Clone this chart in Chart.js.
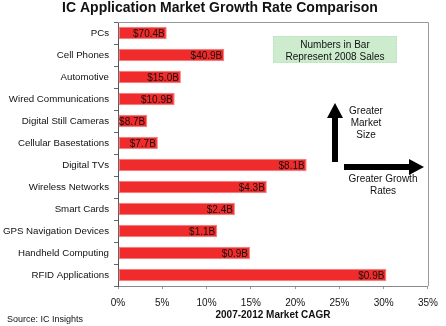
<!DOCTYPE html>
<html>
<head>
<meta charset="utf-8">
<script src="https://cdn.jsdelivr.net/npm/chart.js@4"></script>
<style>
  body { margin: 0; background: #fff; }
</style>
</head>
<body>
<canvas id="cagr" width="446" height="326"></canvas>
<script>
// categories, CAGR (%) and 2008 sales labels
var categorias = ['PCs', 'Cell Phones', 'Automotive', 'Wired Communications', 'Digital Still Cameras',
    'Cellular Basestations', 'Digital TVs', 'Wireless Networks', 'Smart Cards',
    'GPS Navigation Devices', 'Handheld Computing', 'RFID Applications'];
var cagr = [5.5, 12.0, 7.1, 6.4, 3.3, 4.5, 21.3, 16.8, 13.2, 11.2, 14.9, 30.3];
var ventas = ['$70.4B', '$40.9B', '$15.0B', '$10.9B', '$8.7B', '$7.7B', '$8.1B', '$4.3B',
    '$2.4B', '$1.1B', '$0.9B', '$0.9B'];
var ticksX = [0, 5, 10, 15, 20, 25, 30, 35];

var fuente = 'Liberation Sans, Arial, sans-serif';
Chart.defaults.font.family = fuente;
Chart.defaults.color = '#111';

var extras = {
    id: 'extras',
    afterDatasetsDraw: function (chart) {
        var ctx = chart.ctx;
        var area = chart.chartArea;
        ctx.save();

        // top and right frame
        ctx.strokeStyle = '#999';
        ctx.lineWidth = 1;
        ctx.beginPath();
        ctx.moveTo(area.left, area.top + 0.5);
        ctx.lineTo(area.right + 0.5, area.top + 0.5);
        ctx.lineTo(area.right + 0.5, area.bottom);
        ctx.stroke();

        // labels inside bars
        var meta = chart.getDatasetMeta(0);
        ctx.font = '10px ' + fuente;
        ctx.fillStyle = '#111';
        ctx.textAlign = 'right';
        ctx.textBaseline = 'middle';
        meta.data.forEach(function (bar, i) {
            ctx.fillText(ventas[i], bar.x - 2, bar.y + 1);
        });

        // title
        ctx.font = 'bold 14px ' + fuente;
        ctx.textAlign = 'center';
        ctx.fillText('IC Application Market Growth Rate Comparison', 220, 8);

        // note box
        ctx.fillStyle = '#cdeccd';
        ctx.fillRect(273, 36, 124, 27);
        ctx.setLineDash([1, 2]);
        ctx.strokeStyle = '#b5d8b5';
        ctx.strokeRect(273.5, 36.5, 123, 26);
        ctx.setLineDash([]);
        ctx.fillStyle = '#111';
        ctx.font = '10px ' + fuente;
        ctx.fillText('Numbers in Bar', 335, 45);
        ctx.fillText('Represent 2008 Sales', 335, 57);

        // arrows
        ctx.fillStyle = '#000';
        ctx.fillRect(332, 117, 6, 45);
        ctx.beginPath();
        ctx.moveTo(335, 103);
        ctx.lineTo(343, 118);
        ctx.lineTo(327, 118);
        ctx.closePath();
        ctx.fill();

        ctx.fillRect(344, 164, 66, 6);
        ctx.beginPath();
        ctx.moveTo(424, 167);
        ctx.lineTo(409, 159);
        ctx.lineTo(409, 175);
        ctx.closePath();
        ctx.fill();

        ctx.fillStyle = '#111';
        ctx.fillText('Greater', 366, 111);
        ctx.fillText('Market', 366, 123);
        ctx.fillText('Size', 366, 135);
        ctx.fillText('Greater Growth', 383, 179);
        ctx.fillText('Rates', 383, 191);

        // source
        ctx.textAlign = 'left';
        ctx.font = '9px ' + fuente;
        ctx.fillText('Source: IC Insights', 7, 320);
        ctx.restore();
    }
};

var ctx = document.getElementById('cagr').getContext('2d');
var chart = new Chart(ctx, {
    type: 'bar',
    data: {
        labels: categorias,
        datasets: [{
            data: cagr,
            backgroundColor: '#ef2b2b',
            borderColor: '#f47c7c',
            borderWidth: 1,
            borderSkipped: false,
            categoryPercentage: 1,
            barPercentage: 0.56
        }]
    },
    options: {
        indexAxis: 'y',
        responsive: false,
        animation: false,
        devicePixelRatio: 1,
        layout: { padding: { top: 22, right: 11, left: 0, bottom: 0 } },
        plugins: {
            legend: { display: false },
            tooltip: { enabled: false }
        },
        scales: {
            x: {
                min: 0,
                max: 35,
                afterBuildTicks: function (axis) {
                    axis.ticks = ticksX.map(function (v) { return { value: v }; });
                },
                afterFit: function (axis) { axis.height = 40; },
                grid: { drawOnChartArea: false, tickLength: 3, color: '#999' },
                border: { color: '#888' },
                ticks: {
                    padding: 8,
                    font: { size: 10 },
                    color: '#111',
                    maxRotation: 0,
                    callback: function (v) { return v + '%'; }
                },
                title: {
                    display: true,
                    text: '2007-2012 Market CAGR',
                    font: { size: 10, weight: 'bold' },
                    color: '#111',
                    padding: { top: 0, bottom: 5 }
                }
            },
            y: {
                afterFit: function (axis) { axis.width = 118; },
                grid: { drawOnChartArea: false, tickLength: 4, color: '#666', offset: true },
                border: { color: '#555' },
                ticks: {
                    padding: 5,
                    font: { size: 9.7 },
                    color: '#111'
                }
            }
        }
    },
    plugins: [extras]
});
</script>
</body>
</html>
